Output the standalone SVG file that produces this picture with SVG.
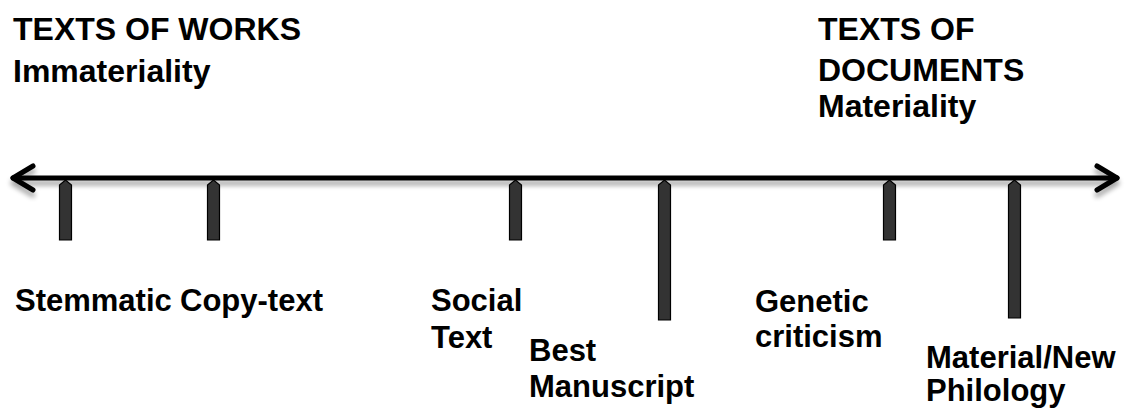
<svg xmlns="http://www.w3.org/2000/svg" width="1126" height="408" viewBox="0 0 1126 408">
<style>
.t{font-family:"Liberation Sans",Arial,sans-serif;font-weight:bold;font-size:31px;fill:#000}
.h{font-size:32px}
.bar{fill:#333;stroke:#000;stroke-width:1.2}
.ax{stroke:#000;stroke-width:5;fill:none;stroke-linecap:round;stroke-linejoin:round}
</style>
<defs>
<filter id="sh" x="-5%" y="-100%" width="110%" height="400%">
<feGaussianBlur in="SourceAlpha" stdDeviation="2.5"/>
<feOffset dx="0" dy="5" result="b"/>
<feComponentTransfer><feFuncA type="linear" slope="0.35"/></feComponentTransfer>
<feMerge><feMergeNode/><feMergeNode in="SourceGraphic"/></feMerge>
</filter>
</defs>
<g id="connectors">
<g filter="url(#sh)">
<path class="ax" d="M13 178 H1117"/>
<path class="ax" d="M33 166 L13 178 L33 190"/>
<path class="ax" d="M1097 166 L1117 178 L1097 190"/>
</g>
</g>
<g id="bar-stemmatic"><path class="bar" d="M59.5 240 V185 L65.5 180 L71.5 185 V240 Z"/></g>
<g id="bar-copytext"><path class="bar" d="M207.5 240 V185 L213.5 180 L219.5 185 V240 Z"/></g>
<g id="bar-social"><path class="bar" d="M509.5 240 V185 L515.5 180 L521.5 185 V240 Z"/></g>
<g id="bar-best"><path class="bar" d="M658.5 320 V185 L664.5 180 L670.5 185 V320 Z"/></g>
<g id="bar-genetic"><path class="bar" d="M883.5 240 V185 L889.5 180 L895.5 185 V240 Z"/></g>
<g id="bar-material"><path class="bar" d="M1008.5 318 V185 L1014.5 180 L1020.5 185 V318 Z"/></g>
<g id="title-works"><text class="t h" x="13" y="40">TEXTS OF WORKS</text><text class="t h" x="13" y="82">Immateriality</text></g>
<g id="title-documents"><text class="t h" x="818" y="40">TEXTS OF</text><text class="t h" x="818" y="81">DOCUMENTS</text><text class="t h" x="818" y="117">Materiality</text></g>
<g id="label-stemmatic"><text class="t" x="15" y="311">Stemmatic</text></g>
<g id="label-copytext"><text class="t" x="180" y="311">Copy-text</text></g>
<g id="label-social"><text class="t" x="431" y="311">Social</text><text class="t" x="431" y="348">Text</text></g>
<g id="label-best"><text class="t" x="529" y="361">Best</text><text class="t" x="529" y="397">Manuscript</text></g>
<g id="label-genetic"><text class="t" x="755" y="312">Genetic</text><text class="t" x="755" y="347">criticism</text></g>
<g id="label-material"><text class="t" x="926" y="368">Material/New</text><text class="t" x="926" y="401">Philology</text></g>
</svg>
